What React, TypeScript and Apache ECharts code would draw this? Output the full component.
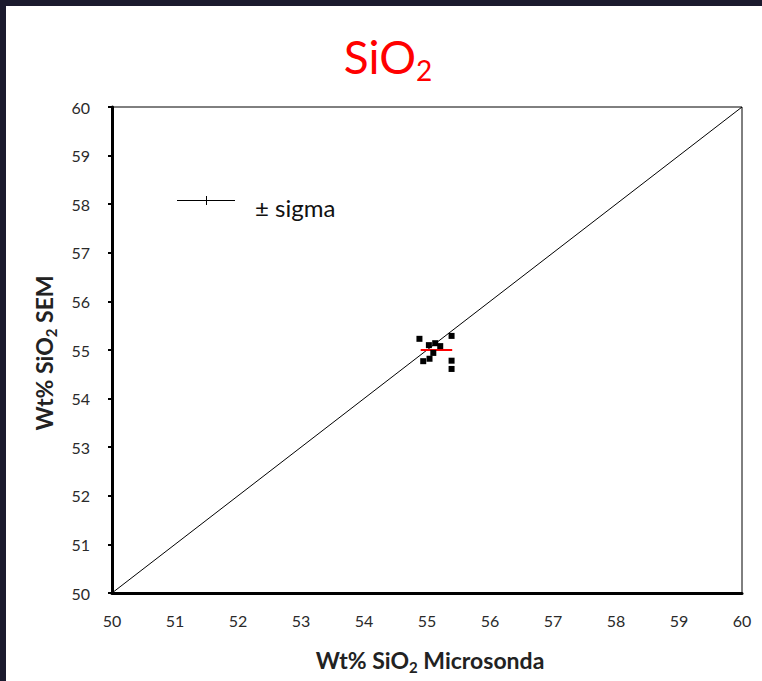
import React, { useEffect, useRef } from "react";
import * as echarts from "echarts";

// Axis range (wt% SiO2) shared by both axes
const axisMin = 50;
const axisMax = 60;
const axisStep = 1;

// Individual analyses: microprobe (x) vs SEM (y)
const microsondaValues = [54.88, 55.39, 55.03, 55.13, 55.21, 55.1, 54.94, 55.04, 55.39, 55.39];
const semValues = [55.23, 55.29, 55.1, 55.14, 55.08, 54.94, 54.77, 54.82, 54.78, 54.61];

// Mean and ± sigma of the microprobe values
const meanMicrosonda = 55.15;
const meanSem = 55.0;
const sigmaMicrosonda = 0.25;

// 1:1 reference line
const identityLine = [
  [50, 50],
  [60, 60],
];

const tickFont = "Lato, 'Noto Sans', sans-serif";

export default function App() {
  const ref = useRef<HTMLDivElement>(null);

  useEffect(() => {
    if (!ref.current) return;
    const chart = echarts.init(ref.current, undefined, { renderer: "svg" });

    const points = microsondaValues.map((x, i) => [x, semValues[i]]);
    const sigmaBar = [
      [meanMicrosonda - sigmaMicrosonda, meanSem],
      [meanMicrosonda + sigmaMicrosonda, meanSem],
    ];

    // subscript tokens are bottom-aligned and pulled down with a negative bottom padding
    const titleRich = {
      m: { fontSize: 46, lineHeight: 46, fontFamily: tickFont, fill: "#ff0000", color: "#ff0000" },
      s: {
        fontSize: 28,
        verticalAlign: "bottom",
        padding: [0, 0, -5, 0],
        fontFamily: tickFont,
        fill: "#ff0000",
        color: "#ff0000",
      },
    };
    const axisTitleRich = {
      m: { fontSize: 23, lineHeight: 23, fontWeight: "bold", fontFamily: tickFont, fill: "#222", color: "#222" },
      s: {
        fontSize: 15,
        verticalAlign: "bottom",
        padding: [0, 0, -3, 0],
        fontWeight: "bold",
        fontFamily: tickFont,
        fill: "#222",
        color: "#222",
      },
    };

    chart.setOption({
      animation: false,
      backgroundColor: "#ffffff",
      grid: {
        left: 106,
        right: 20,
        top: 101,
        bottom: 88,
        show: true,
        borderColor: "#000",
        borderWidth: 1,
        backgroundColor: "transparent",
      },
      xAxis: {
        type: "value",
        min: axisMin,
        max: axisMax,
        interval: axisStep,
        axisLine: { show: true, onZero: false, lineStyle: { color: "#000", width: 3 } },
        axisTick: { show: false },
        splitLine: { show: false },
        axisLabel: { color: "#2a2a2a", fontSize: 16, fontFamily: tickFont, margin: 19 },
      },
      yAxis: {
        type: "value",
        min: axisMin,
        max: axisMax,
        interval: axisStep,
        axisLine: { show: true, onZero: false, lineStyle: { color: "#000", width: 3 } },
        axisTick: { show: true, inside: false, length: 4, lineStyle: { color: "#000", width: 2 } },
        splitLine: { show: false },
        axisLabel: { color: "#2a2a2a", fontSize: 16, fontFamily: tickFont, margin: 22 },
      },
      series: [
        {
          type: "line",
          data: identityLine,
          symbol: "none",
          lineStyle: { color: "#000", width: 1 },
          z: 2,
        },
        {
          type: "line",
          data: sigmaBar,
          symbol: "none",
          lineStyle: { color: "#ff0000", width: 2 },
          z: 3,
        },
        {
          type: "scatter",
          data: points,
          symbol: "rect",
          symbolSize: 6,
          itemStyle: { color: "#000", opacity: 1 },
          z: 4,
        },
      ],
      graphic: [
        {
          type: "text",
          x: 382,
          y: 50,
          style: {
            text: "{m|SiO}{s|2}",
            rich: titleRich,
            align: "center",
            verticalAlign: "middle",
          },
        },
        {
          type: "text",
          x: 424,
          y: 654,
          style: {
            text: "{m|Wt% SiO}{s|2}{m| Microsonda}",
            rich: axisTitleRich,
            align: "center",
            verticalAlign: "middle",
          },
        },
        {
          type: "text",
          x: 38,
          y: 347,
          rotation: Math.PI / 2,
          style: {
            text: "{m|Wt% SiO}{s|2}{m| SEM}",
            rich: axisTitleRich,
            align: "center",
            verticalAlign: "middle",
          },
        },
        {
          type: "group",
          children: [
            {
              type: "line",
              shape: { x1: 171, y1: 194.5, x2: 229, y2: 194.5 },
              style: { stroke: "#000", lineWidth: 1 },
            },
            {
              type: "line",
              shape: { x1: 200.5, y1: 190, x2: 200.5, y2: 199 },
              style: { stroke: "#000", lineWidth: 1 },
            },
            {
              type: "text",
              x: 249,
              y: 201,
              style: {
                text: "± sigma",
                fontSize: 24,
                fontFamily: tickFont,
                fill: "#111",
                align: "left",
                verticalAlign: "middle",
              },
            },
          ],
        },
      ],
    });

    return () => chart.dispose();
  }, []);

  return (
    <div
      style={{
        position: "fixed",
        left: 0,
        top: 0,
        width: 762,
        height: 681,
        background: "#1b1a2e",
      }}
    >
      <div
        ref={ref}
        style={{ position: "absolute", left: 6, top: 6, width: 756, height: 675, background: "#fff" }}
      />
    </div>
  );
}
